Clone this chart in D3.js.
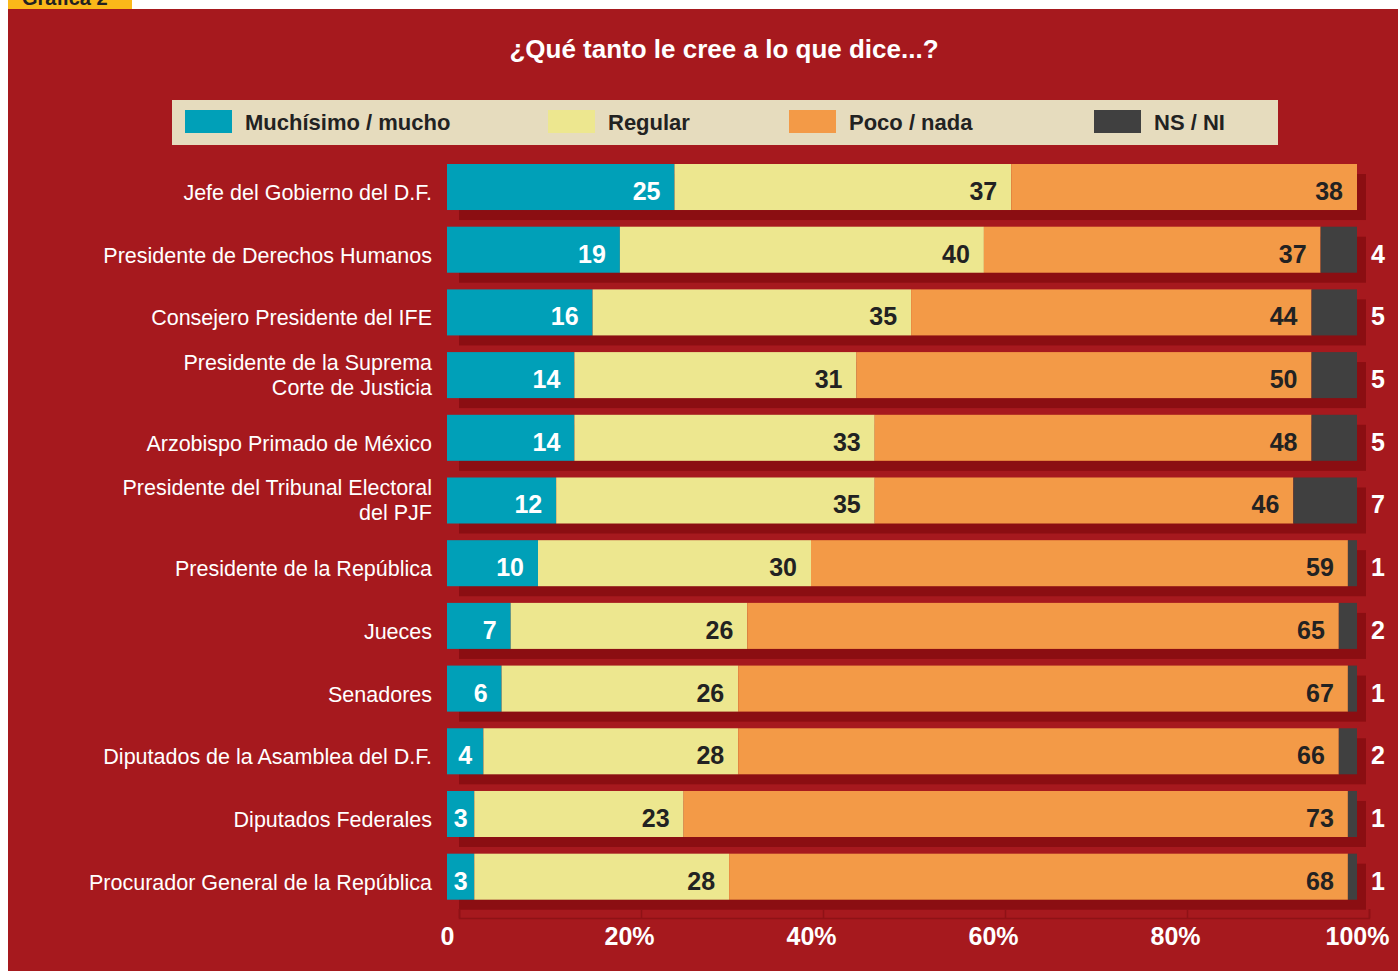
<!DOCTYPE html>
<html>
<head>
<meta charset="utf-8">
<script src="https://cdn.jsdelivr.net/npm/d3@7"></script>
<style>
  body { margin: 0; background: #fff; }
  text { font-family: "Liberation Sans", Arial, Helvetica, sans-serif; }
</style>
</head>
<body>
<div id="chart"></div>
<script>
// data
var categories = [
    "Jefe del Gobierno del D.F.",
    "Presidente de Derechos Humanos",
    "Consejero Presidente del IFE",
    "Presidente de la Suprema\nCorte de Justicia",
    "Arzobispo Primado de México",
    "Presidente del Tribunal Electoral\ndel PJF",
    "Presidente de la República",
    "Jueces",
    "Senadores",
    "Diputados de la Asamblea del D.F.",
    "Diputados Federales",
    "Procurador General de la República"
];
var mucho   = [25, 19, 16, 14, 14, 12, 10, 7, 6, 4, 3, 3];
var regular = [37, 40, 35, 31, 33, 35, 30, 26, 26, 28, 23, 28];
var poco    = [38, 37, 44, 50, 48, 46, 59, 65, 67, 66, 73, 68];
var nsni    = [0, 4, 5, 5, 5, 7, 1, 2, 1, 2, 1, 1];
var seriesNames = ["Muchísimo / mucho", "Regular", "Poco / nada", "NS / NI"];
var tickValues = [0, 20, 40, 60, 80, 100];

var colors = ["#00a0b8", "#ede78f", "#f39a47", "#404040"];
var labelColors = ["#ffffff", "#222222", "#222222", "#ffffff"];

var width = 1398, height = 971;
var svg = d3.select("#chart").append("svg")
    .attr("width", width)
    .attr("height", height);

// background panel + tab
svg.append("rect").attr("x", 8).attr("y", 0).attr("width", 124).attr("height", 9).attr("fill", "#fbb919");
svg.append("text").attr("x", 22).attr("y", 5)
    .attr("font-size", 20).attr("font-weight", "bold").attr("fill", "#222")
    .text("Gráfica 2");
svg.append("rect").attr("x", 8).attr("y", 9).attr("width", width - 8).attr("height", height - 9).attr("fill", "#a6191e");

svg.append("text")
    .attr("x", 724).attr("y", 58)
    .attr("text-anchor", "middle")
    .attr("font-size", 26).attr("font-weight", "bold").attr("fill", "#fff")
    .text("¿Qué tanto le cree a lo que dice...?");

// legend
svg.append("rect").attr("x", 172).attr("y", 100).attr("width", 1106).attr("height", 45).attr("fill", "#e6dcbe");
var legendX = [185, 548, 789, 1094];
var legend = svg.append("g").selectAll("g")
    .data(seriesNames)
    .enter().append("g")
    .attr("transform", function(d, i) { return "translate(" + legendX[i] + ",110)"; });
legend.append("rect")
    .attr("width", 47).attr("height", 23)
    .attr("fill", function(d, i) { return colors[i]; });
legend.append("text")
    .attr("x", 60).attr("y", 20)
    .attr("font-size", 22).attr("font-weight", "bold").attr("fill", "#222")
    .text(function(d) { return d; });

// scales
var x = d3.scaleLinear().domain([0, 100]).range([447, 1357]);
var y = d3.scaleBand().domain(categories).range([164, 899.7]).paddingInner(0.266).paddingOuter(0);

var rows = categories.map(function(c, i) {
    return {cat: c, mucho: mucho[i], regular: regular[i], poco: poco[i], nsni: nsni[i]};
});
var stacked = d3.stack().keys(["mucho", "regular", "poco", "nsni"])(rows);

// shadows
svg.append("g").selectAll("rect")
    .data(rows)
    .enter().append("rect")
    .attr("x", x(0) + 12)
    .attr("y", function(d) { return y(d.cat) + 10; })
    .attr("width", x(100) - x(0) - 3)
    .attr("height", y.bandwidth())
    .attr("fill", "#8b0e12");

// axis shadow band
var axisTicks = svg.append("g")
    .attr("transform", "translate(12,918)")
    .call(d3.axisTop(x).tickValues(tickValues).tickSize(9).tickFormat(""));
axisTicks.selectAll("path, line").attr("stroke", "#8e1216").attr("stroke-width", 1.5);

// bars
var layers = svg.append("g").selectAll("g")
    .data(stacked)
    .enter().append("g")
    .attr("fill", function(d, i) { return colors[i]; });
layers.selectAll("rect")
    .data(function(d) { return d; })
    .enter().append("rect")
    .attr("x", function(d) { return x(d[0]); })
    .attr("y", function(d) { return y(d.data.cat); })
    .attr("width", function(d) { return x(d[1]) - x(d[0]); })
    .attr("height", y.bandwidth());

// value labels
stacked.forEach(function(layer, k) {
    svg.append("g").selectAll("text")
        .data(layer.filter(function(d) { return d[1] - d[0] > 0; }))
        .enter().append("text")
        .attr("x", function(d) {
            if (k == 3) return x(100) + 21;
            var w = x(d[1]) - x(d[0]);
            if (w < 40) return (x(d[0]) + x(d[1])) / 2;
            return x(d[1]) - 14;
        })
        .attr("y", function(d) { return y(d.data.cat) + 36; })
        .attr("text-anchor", function(d) {
            if (k == 3) return "middle";
            return (x(d[1]) - x(d[0]) < 40) ? "middle" : "end";
        })
        .attr("font-size", 25).attr("font-weight", "bold")
        .attr("fill", labelColors[k])
        .text(function(d) { return d[1] - d[0]; });
});

// category labels
var catLabels = svg.append("g").selectAll("text")
    .data(categories)
    .enter().append("text")
    .attr("x", 432)
    .attr("text-anchor", "end")
    .attr("font-size", 21.5).attr("fill", "#fff");
catLabels.each(function(d) {
    var lines = d.split("\n");
    var mid = y(d) + y.bandwidth() / 2;
    var t = d3.select(this);
    lines.forEach(function(line, j) {
        var yy = lines.length == 1 ? mid + 13 : mid + 7 + (j - 0.5) * 25;
        t.append("tspan")
            .attr("x", 432)
            .attr("y", yy)
            .text(line);
    });
});

// axis labels
var xAxis = svg.append("g")
    .attr("transform", "translate(0,945)")
    .call(d3.axisBottom(x).tickValues(tickValues).tickSize(0)
        .tickFormat(function(d) { return d == 0 ? "0" : d + "%"; }));
xAxis.select(".domain").remove();
xAxis.selectAll("text")
    .attr("dy", 0).attr("y", 0)
    .attr("fill", "#fff")
    .attr("font-size", 25).attr("font-weight", "bold")
    .attr("font-family", "'Liberation Sans', Arial, sans-serif");
</script>
</body>
</html>
